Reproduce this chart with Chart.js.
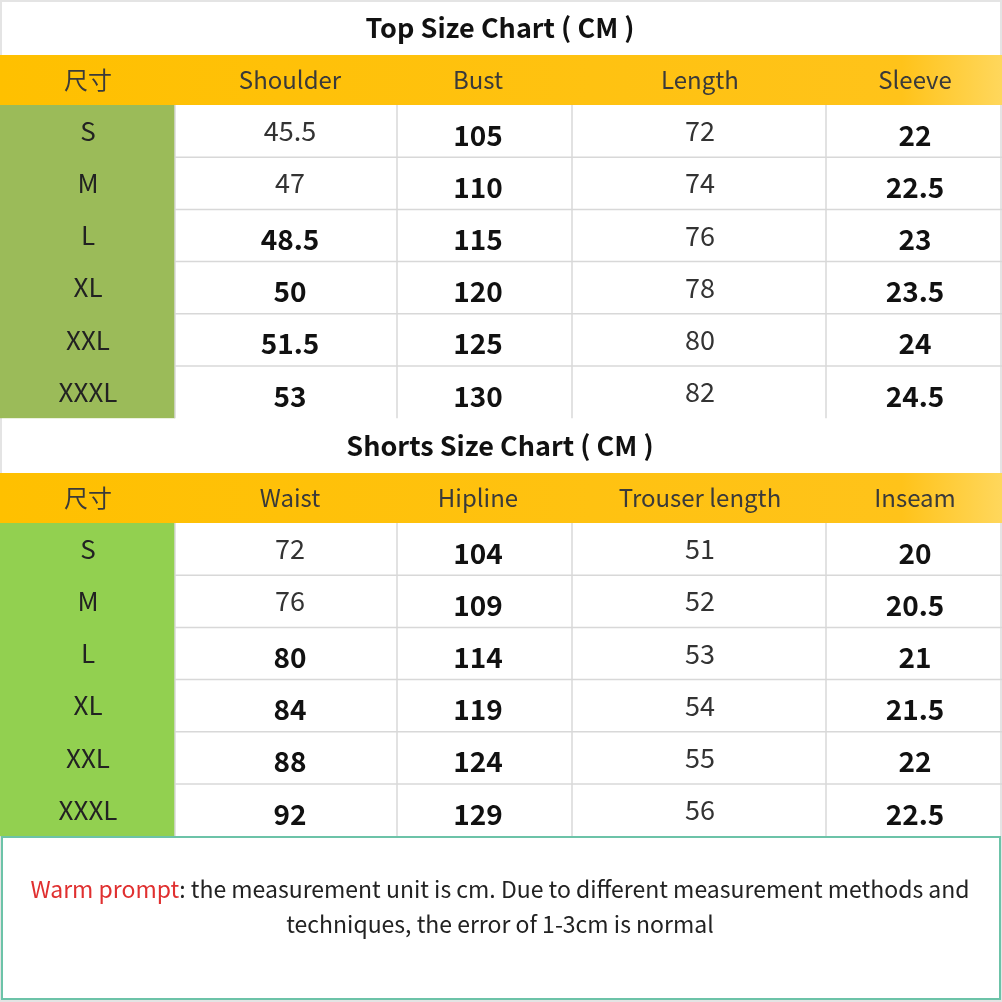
<!DOCTYPE html>
<html><head><meta charset="utf-8">
<script src="https://cdn.jsdelivr.net/npm/chart.js@4"></script>
<style>html,body{margin:0;padding:0;background:#fff}#w{width:1002px;height:1002px}</style>
</head><body><div id="w"><canvas id="c"></canvas></div>
<script>
const sizes = ["S","M","L","XL","XXL","XXXL"];
const topTitle = "Top Size Chart ( CM )";
const topHeaders = ["尺寸","Shoulder","Bust","Length","Sleeve"];
const topShoulder = ["45.5","47","48.5","50","51.5","53"];
const topBust = ["105","110","115","120","125","130"];
const topLength = ["72","74","76","78","80","82"];
const topSleeve = ["22","22.5","23","23.5","24","24.5"];
const shortsTitle = "Shorts Size Chart ( CM )";
const shortsHeaders = ["尺寸","Waist","Hipline","Trouser length","Inseam"];
const shortsWaist = ["72","76","80","84","88","92"];
const shortsHip = ["104","109","114","119","124","129"];
const shortsTrouser = ["51","52","53","54","55","56"];
const shortsInseam = ["20","20.5","21","21.5","22","22.5"];
const noteRed = "Warm prompt";
const noteLine1 = ": the measurement unit is cm. Due to different measurement methods and";
const noteLine2 = "techniques, the error of 1-3cm is normal";

// layout (not data)
const colEdges = [0,175,397,572,826,1002];
const colText = [88,290,478,700,915];
const topBold = [[false,false,true,true,true,true],null,[false,false,false,false,false,false],null];
const shortBold = [[false,false,true,true,true,true],null,[false,false,false,false,false,false],null];
const F = '"Noto Sans CJK SC","Noto Sans",sans-serif';

function drawTable(ctx,xs,ys,y0,title,headers,cols,bold,green){
  const X=v=>xs.getPixelForValue(v), Y=v=>ys.getPixelForValue(v);
  ctx.textAlign='center';ctx.textBaseline='middle';
  ctx.fillStyle='#111';ctx.font='bold 27px '+F;
  ctx.fillText(title,X(500),Y(y0-27));
  const hy=y0, hh=50;
  const g=ctx.createLinearGradient(X(0),0,X(1002),0);
  g.addColorStop(0,'#FFC000');g.addColorStop(0.9,'#FFC31A');g.addColorStop(1,'#FFD75C');
  ctx.fillStyle=g;ctx.fillRect(X(0),Y(hy),X(1002)-X(0),Y(hy+hh)-Y(hy));
  ctx.fillStyle='#3a3a3a';ctx.font='24px '+F;
  headers.forEach((h,i)=>ctx.fillText(h,X(colText[i]),Y(hy+25)));
  const ry=hy+hh, rh=52.2;
  ctx.fillStyle=green;ctx.fillRect(X(0),Y(ry),X(175)-X(0),Y(ry+rh*6)-Y(ry));
  ctx.strokeStyle='#d8d8d8';ctx.lineWidth=1.5;
  for(let r=1;r<6;r++){ctx.beginPath();ctx.moveTo(X(175),Y(ry+r*rh));ctx.lineTo(X(1002),Y(ry+r*rh));ctx.stroke();}
  for(let c=1;c<5;c++){ctx.beginPath();ctx.moveTo(X(colEdges[c]),Y(ry));ctx.lineTo(X(colEdges[c]),Y(ry+rh*6));ctx.stroke();}
  sizes.forEach((s,r)=>{
    ctx.fillStyle='#222';ctx.font='26px '+F;
    ctx.fillText(s,X(colText[0]),Y(ry+r*rh+26));
    cols.forEach((col,c)=>{
      const b=bold[c]?bold[c][r]:true;
      ctx.fillStyle=b?'#111':'#333';
      ctx.font=(b?'600 28px ':'27px ')+F;
      ctx.fillText(col[r],X(colText[c+1]),Y(ry+r*rh+(b?30:26)));
    });
  });
}

const tablePlugin={id:'tbl',afterDraw(ch){
  const ctx=ch.ctx,xs=ch.scales.x,ys=ch.scales.y;
  const X=v=>xs.getPixelForValue(v), Y=v=>ys.getPixelForValue(v);
  ctx.save();
  ctx.strokeStyle='#e4e4e4';ctx.lineWidth=2;ctx.strokeRect(X(1),Y(1),X(1001)-X(1),Y(1001)-Y(1));
  drawTable(ctx,xs,ys,55,topTitle,topHeaders,[topShoulder,topBust,topLength,topSleeve],topBold,'#9BBB59');
  drawTable(ctx,xs,ys,473,shortsTitle,shortsHeaders,[shortsWaist,shortsHip,shortsTrouser,shortsInseam],shortBold,'#92D050');
  ctx.strokeStyle='#6cc3a8';ctx.lineWidth=2;ctx.strokeRect(X(2),Y(837),X(1000)-X(2),Y(999)-Y(837));
  ctx.font='23px '+F;ctx.textBaseline='middle';ctx.textAlign='left';
  const w1=ctx.measureText(noteRed).width,w2=ctx.measureText(noteLine1).width;
  const sx=X(500)-(w1+w2)/2;
  ctx.fillStyle='#e03030';ctx.fillText(noteRed,sx,Y(889));
  ctx.fillStyle='#222';ctx.fillText(noteLine1,sx+w1,Y(889));
  ctx.textAlign='center';ctx.fillText(noteLine2,X(500),Y(924));
  ctx.restore();
}};

new Chart(document.getElementById('c'),{
  type:'scatter',
  data:{datasets:[{data:[],pointRadius:0}]},
  options:{responsive:true,maintainAspectRatio:false,animation:false,
    layout:{padding:0},
    plugins:{legend:{display:false},tooltip:{enabled:false}},
    scales:{x:{type:'linear',min:0,max:1002,display:false},
            y:{type:'linear',min:0,max:1002,reverse:true,display:false}}},
  plugins:[tablePlugin]
});
</script></body></html>
